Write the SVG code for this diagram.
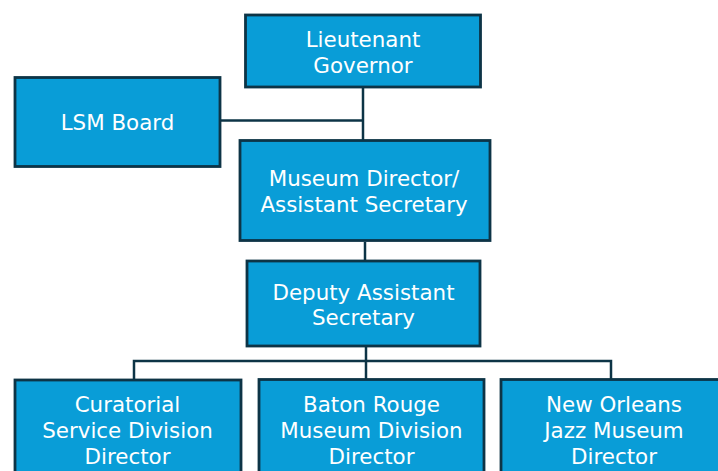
<svg xmlns="http://www.w3.org/2000/svg" width="718" height="471" viewBox="0 0 718 471">
  <style>
    .box { fill: #099dd7; stroke: #0d3446; stroke-width: 2.8; }
    .lbl { fill: #ffffff; font-family: "DejaVu Sans", Verdana, sans-serif; font-size: 21.4px; text-anchor: middle; }
    .wire { fill: none; stroke: #0d3446; stroke-width: 2.5; }
  </style>
  <rect width="718" height="471" fill="#ffffff"/>

  <!-- reporting lines -->
  <g id="connectors">
    <path class="wire" d="M363 88 V140"/>
    <path class="wire" d="M221 120.5 H363"/>
    <path class="wire" d="M365 242 V260"/>
    <path class="wire" d="M366 347 V379"/>
    <path class="wire" d="M134 380 V361 H611 V379"/>
  </g>

  <g id="lieutenant-governor">
    <rect class="box" x="245.5" y="15" width="235" height="72"/>
    <text class="lbl" x="363" y="47">Lieutenant</text>
    <text class="lbl" x="363" y="73">Governor</text>
  </g>

  <g id="lsm-board">
    <rect class="box" x="15" y="77.5" width="205" height="89"/>
    <text class="lbl" x="117.5" y="130">LSM Board</text>
  </g>

  <g id="museum-director">
    <rect class="box" x="240" y="140.5" width="250" height="100"/>
    <text class="lbl" x="364" y="186">Museum Director/</text>
    <text class="lbl" x="364" y="211.5">Assistant Secretary</text>
  </g>

  <g id="deputy-assistant-secretary">
    <rect class="box" x="247" y="261" width="233" height="85"/>
    <text class="lbl" x="363.5" y="299.5">Deputy Assistant</text>
    <text class="lbl" x="363.5" y="325">Secretary</text>
  </g>

  <g id="curatorial-director">
    <rect class="box" x="15" y="380" width="226" height="120"/>
    <text class="lbl" x="127.5" y="412">Curatorial</text>
    <text class="lbl" x="127.5" y="438">Service Division</text>
    <text class="lbl" x="127.5" y="464">Director</text>
  </g>

  <g id="baton-rouge-director">
    <rect class="box" x="259" y="379.5" width="225" height="120"/>
    <text class="lbl" x="371.5" y="412">Baton Rouge</text>
    <text class="lbl" x="371.5" y="438">Museum Division</text>
    <text class="lbl" x="371.5" y="464">Director</text>
  </g>

  <g id="jazz-museum-director">
    <rect class="box" x="501" y="379.5" width="226" height="120"/>
    <text class="lbl" x="614" y="412">New Orleans</text>
    <text class="lbl" x="614" y="438">Jazz Museum</text>
    <text class="lbl" x="614" y="464">Director</text>
  </g>
</svg>
